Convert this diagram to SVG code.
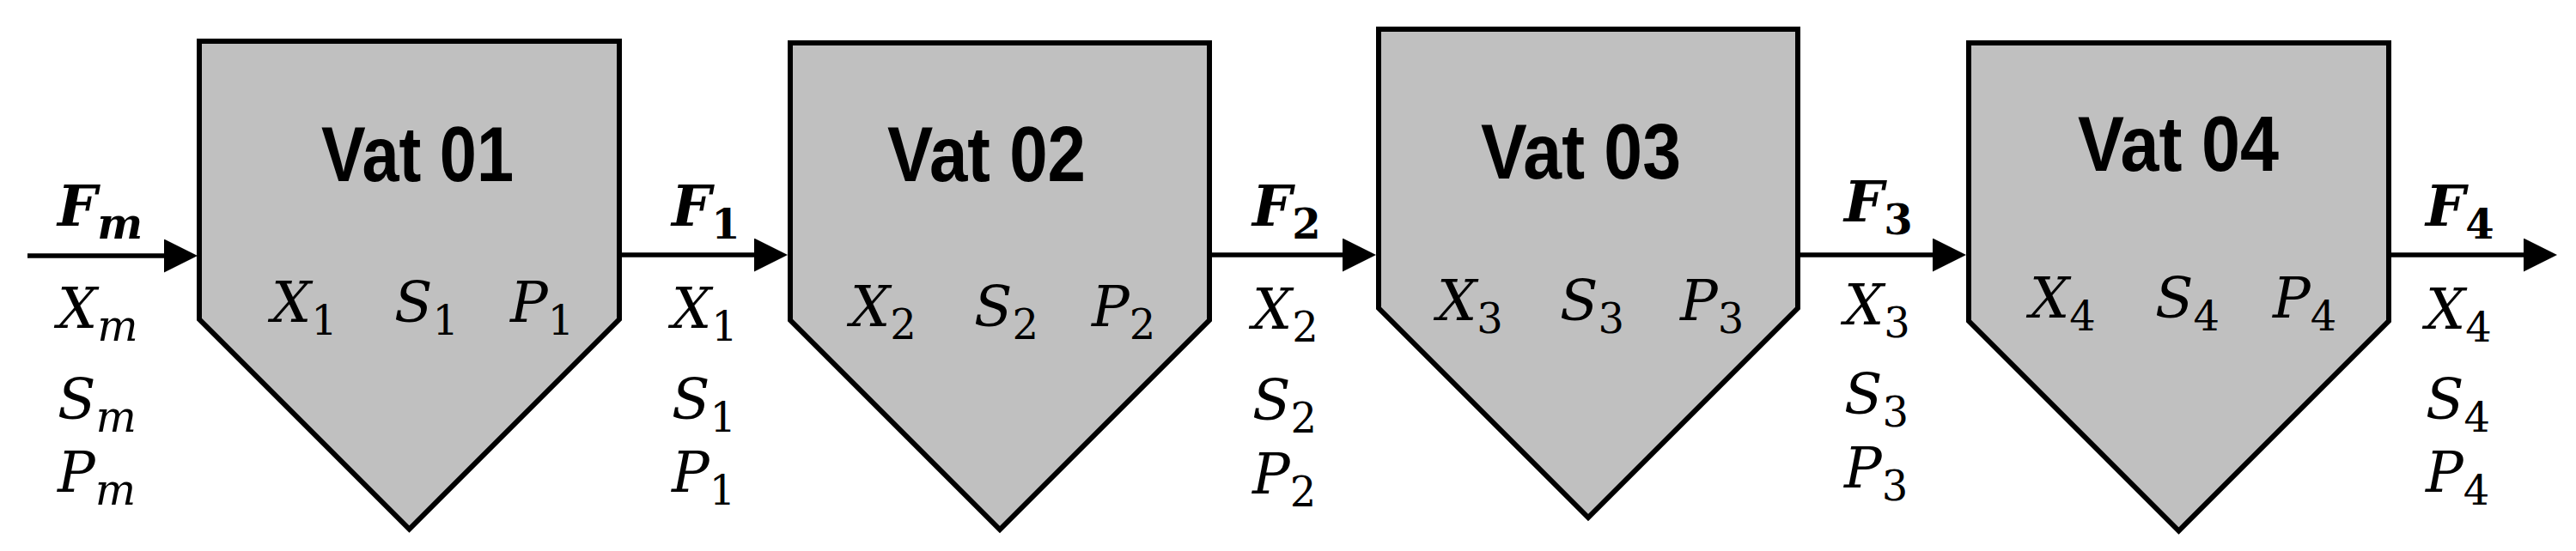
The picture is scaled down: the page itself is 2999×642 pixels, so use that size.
<svg xmlns="http://www.w3.org/2000/svg" width="2999" height="642" viewBox="0 0 2999 642">
<style>
.vat{fill:#c0c0c0;stroke:#000;stroke-width:6;stroke-linejoin:miter}
.title{font-family:"Liberation Sans",Arial,sans-serif;font-weight:bold;font-size:90px;fill:#000}
.m{font-family:"DejaVu Serif",serif;font-style:italic;font-size:65px;fill:#000}
.b{font-weight:bold}
.sd{font-size:48px;font-style:normal}
.sm{font-size:50px}
.flow{stroke:#000;stroke-width:5.5;fill:none}
</style>
<defs>
<marker id="ah" viewBox="0 0 39 39" markerWidth="39" markerHeight="39" markerUnits="userSpaceOnUse" refX="2" refY="19.5" orient="auto">
<path d="M0,0 L39,19.5 L0,39 z" fill="#000"/>
</marker>
</defs>
<rect width="2999" height="642" fill="#fff"/>
<g id="vat01">
<polygon class="vat" points="232,48 721,48 721,372 476.5,616.5 232,372"/>
<text class="title" x="374" y="211" textLength="224" lengthAdjust="spacingAndGlyphs">Vat 01</text>
<text class="m" x="316" y="375">X<tspan class="sd" dy="15">1</tspan></text>
<text class="m" x="459" y="375">S<tspan class="sd" dy="15">1</tspan></text>
<text class="m" x="594" y="375">P<tspan class="sd" dy="15">1</tspan></text>
</g>
<g id="vat02">
<polygon class="vat" points="920,50 1408,50 1408,373 1164,617 920,373"/>
<text class="title" x="1033" y="211" textLength="231" lengthAdjust="spacingAndGlyphs">Vat 02</text>
<text class="m" x="990" y="380">X<tspan class="sd" dy="15">2</tspan></text>
<text class="m" x="1134" y="380">S<tspan class="sd" dy="15">2</tspan></text>
<text class="m" x="1271" y="380">P<tspan class="sd" dy="15">2</tspan></text>
</g>
<g id="vat03">
<polygon class="vat" points="1605,34 2093,34 2093,359 1849,603 1605,359"/>
<text class="title" x="1724" y="208" textLength="233" lengthAdjust="spacingAndGlyphs">Vat 03</text>
<text class="m" x="1673" y="373">X<tspan class="sd" dy="15">3</tspan></text>
<text class="m" x="1816" y="373">S<tspan class="sd" dy="15">3</tspan></text>
<text class="m" x="1956" y="373">P<tspan class="sd" dy="15">3</tspan></text>
</g>
<g id="vat04">
<polygon class="vat" points="2292,50 2781,50 2781,374 2536.5,618.5 2292,374"/>
<text class="title" x="2419" y="199" textLength="234" lengthAdjust="spacingAndGlyphs">Vat 04</text>
<text class="m" x="2363" y="370">X<tspan class="sd" dy="15">4</tspan></text>
<text class="m" x="2509" y="370">S<tspan class="sd" dy="15">4</tspan></text>
<text class="m" x="2646" y="370">P<tspan class="sd" dy="15">4</tspan></text>
</g>
<g id="connectors">
<line class="flow" x1="32" y1="298" x2="193" y2="298" marker-end="url(#ah)"/>
<line class="flow" x1="721" y1="297" x2="880" y2="297" marker-end="url(#ah)"/>
<line class="flow" x1="1408" y1="297" x2="1565" y2="297" marker-end="url(#ah)"/>
<line class="flow" x1="2093" y1="297" x2="2252" y2="297" marker-end="url(#ah)"/>
<line class="flow" x1="2781" y1="297" x2="2940" y2="297" marker-end="url(#ah)"/>
</g>
<g id="stream-m">
<text class="m b" x="67" y="263">F<tspan class="sm" dy="15">m</tspan></text>
<text class="m" x="67" y="382">X<tspan class="sm" dy="15">m</tspan></text>
<text class="m" x="67" y="488">S<tspan class="sm" dy="15">m</tspan></text>
<text class="m" x="67" y="573">P<tspan class="sm" dy="15">m</tspan></text>
</g>
<g id="stream-1">
<text class="m b" x="782" y="263">F<tspan class="sd" dy="15">1</tspan></text>
<text class="m" x="782" y="382">X<tspan class="sd" dy="15">1</tspan></text>
<text class="m" x="782" y="488">S<tspan class="sd" dy="15">1</tspan></text>
<text class="m" x="782" y="573">P<tspan class="sd" dy="15">1</tspan></text>
</g>
<g id="stream-2">
<text class="m b" x="1458" y="263">F<tspan class="sd" dy="15">2</tspan></text>
<text class="m" x="1458" y="383">X<tspan class="sd" dy="15">2</tspan></text>
<text class="m" x="1458" y="489">S<tspan class="sd" dy="15">2</tspan></text>
<text class="m" x="1458" y="575">P<tspan class="sd" dy="15">2</tspan></text>
</g>
<g id="stream-3">
<text class="m b" x="2147" y="258">F<tspan class="sd" dy="15">3</tspan></text>
<text class="m" x="2147" y="378">X<tspan class="sd" dy="15">3</tspan></text>
<text class="m" x="2147" y="482">S<tspan class="sd" dy="15">3</tspan></text>
<text class="m" x="2147" y="568">P<tspan class="sd" dy="15">3</tspan></text>
</g>
<g id="stream-4">
<text class="m b" x="2824" y="263">F<tspan class="sd" dy="15">4</tspan></text>
<text class="m" x="2824" y="383">X<tspan class="sd" dy="15">4</tspan></text>
<text class="m" x="2824" y="488">S<tspan class="sd" dy="15">4</tspan></text>
<text class="m" x="2824" y="573">P<tspan class="sd" dy="15">4</tspan></text>
</g>
</svg>
